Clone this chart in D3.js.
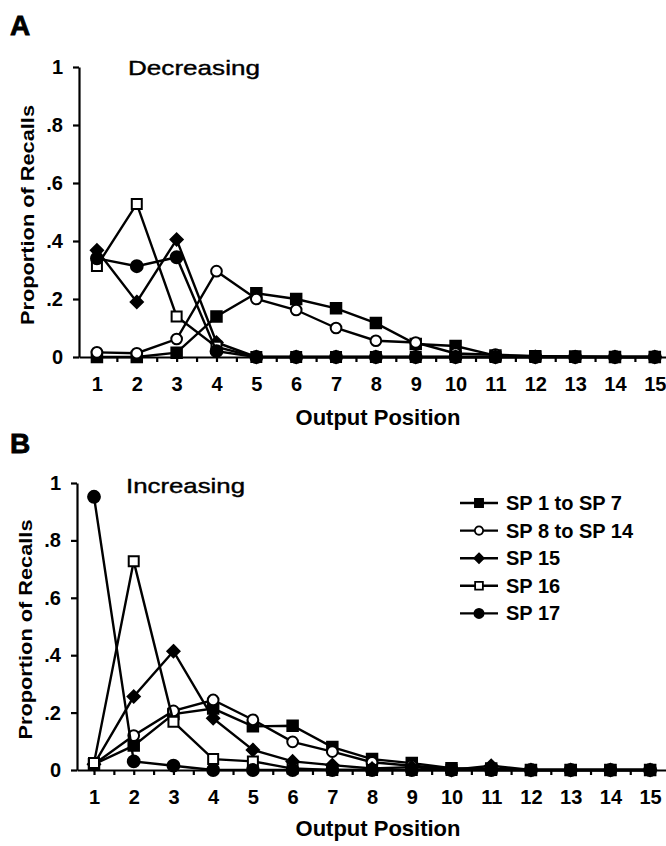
<!DOCTYPE html>
<html>
<head>
<meta charset="utf-8">
<script src="https://cdn.jsdelivr.net/npm/d3@7"></script>
<style>
  body { margin: 0; background: #fff; }
  svg { font-family: 'Liberation Sans', Arial, sans-serif; }
  .tick text { font-size: 20px; font-weight: bold; fill: #000; }
  .domain, .tick line { stroke: #000; stroke-width: 2.2; }
</style>
</head>
<body>
<div id="chart"></div>
<script>
const positions = [1, 2, 3, 4, 5, 6, 7, 8, 9, 10, 11, 12, 13, 14, 15];
const yTicks = [0, 0.2, 0.4, 0.6, 0.8, 1];
const seriesNames = ['SP 1 to SP 7', 'SP 8 to SP 14', 'SP 15', 'SP 16', 'SP 17'];

// panel A - decreasing
const decSP1to7 = [0, 0, 0.015, 0.14, 0.22, 0.2, 0.168, 0.117, 0.045, 0.038, 0.005, 0.003, 0.002, 0, 0];
const decSP8to14 = [0.016, 0.013, 0.062, 0.296, 0.2, 0.162, 0.1, 0.056, 0.05, 0.012, 0.008, 0.003, 0, 0, 0];
const decSP15 = [0.368, 0.19, 0.405, 0.05, 0, 0, 0, 0, 0, 0, 0, 0, 0, 0, 0];
const decSP16 = [0.314, 0.528, 0.14, 0.035, 0, 0, 0, 0, 0, 0, 0, 0, 0, 0, 0];
const decSP17 = [0.34, 0.313, 0.344, 0.02, 0, 0, 0, 0, 0, 0, 0, 0, 0, 0, 0];

// panel B - increasing
const incSP1to7 = [0.02, 0.085, 0.195, 0.214, 0.152, 0.154, 0.08, 0.038, 0.024, 0.006, 0.005, 0, 0, 0, 0];
const incSP8to14 = [0.02, 0.12, 0.206, 0.244, 0.175, 0.098, 0.064, 0.027, 0.015, 0.005, 0, 0, 0, 0, 0];
const incSP15 = [0.02, 0.256, 0.414, 0.18, 0.07, 0.03, 0.017, 0.005, 0.01, 0, 0.015, 0, 0, 0, 0];
const incSP16 = [0.024, 0.727, 0.168, 0.038, 0.03, 0.005, 0, 0, 0, 0, 0, 0, 0, 0, 0];
const incSP17 = [0.952, 0.03, 0.015, 0, 0, 0, 0, 0, 0, 0, 0, 0, 0, 0, 0];

const width = 666;
const height = 846;

// marker style per series: shape + filled or open
const markers = [
  { type: d3.symbolSquare, size: 110, fill: '#000' },
  { type: d3.symbolCircle, size: 90, fill: '#fff' },
  { type: d3.symbolDiamond2, size: 95, fill: '#000' },
  { type: d3.symbolSquare, size: 100, fill: '#fff' },
  { type: d3.symbolCircle, size: 110, fill: '#000' }
];

const svg = d3.select('#chart')
  .append('svg')
  .attr('width', width)
  .attr('height', height);

drawPanel({
  letter: 'A', letterY: 35,
  title: 'Decreasing', titleX: 128, titleY: 75, titleLen: 132,
  xDomain: [0.55, 15.28], xRange: [79, 666],
  yRange: [357, 67],
  labelY: 425, yLabelX: 34,
  series: [decSP1to7, decSP8to14, decSP15, decSP16, decSP17],
  legend: false
});

drawPanel({
  letter: 'B', letterY: 453,
  title: 'Increasing', titleX: 126, titleY: 493, titleLen: 119,
  xDomain: [0.572, 15.4], xRange: [77, 666],
  yRange: [770, 483],
  labelY: 836, yLabelX: 32,
  series: [incSP1to7, incSP8to14, incSP15, incSP16, incSP17],
  legend: true
});

function drawPanel(cfg) {
  const scaleX = d3.scaleLinear().domain(cfg.xDomain).range(cfg.xRange);
  const scaleY = d3.scaleLinear().domain([0, 1]).range(cfg.yRange);

  const g = svg.append('g');

  g.append('text')
    .attr('x', 10)
    .attr('y', cfg.letterY)
    .attr('font-size', 28)
    .attr('font-weight', 'bold')
    .attr('stroke', '#000')
    .attr('stroke-width', 0.8)
    .text(cfg.letter);

  g.append('text')
    .attr('x', cfg.titleX)
    .attr('y', cfg.titleY)
    .attr('font-size', 21)
    .attr('stroke', '#000')
    .attr('stroke-width', 0.4)
    .attr('textLength', cfg.titleLen)
    .attr('lengthAdjust', 'spacingAndGlyphs')
    .text(cfg.title);

  // x axis: ticks every half position, labels on whole positions
  const halfTicks = [];
  positions.forEach(p => { halfTicks.push(p - 0.5, p); });
  halfTicks.push(15.5);
  const xAxis = d3.axisBottom(scaleX)
    .tickValues(halfTicks.filter(v => v > cfg.xDomain[0] && v < cfg.xDomain[1]))
    .tickFormat(d => Number.isInteger(d) ? d : '')
    .tickSizeInner(5)
    .tickSizeOuter(0)
    .tickPadding(15);

  g.append('g')
    .attr('transform', `translate(0, ${cfg.yRange[0]})`)
    .call(xAxis);

  const yAxis = d3.axisLeft(scaleY)
    .tickValues(yTicks)
    .tickFormat(d => d === 0 ? '0' : d === 1 ? '1' : String(d).replace('0.', '.'))
    .tickSizeInner(6)
    .tickSizeOuter(0)
    .tickPadding(10);

  g.append('g')
    .attr('transform', `translate(${cfg.xRange[0]}, 0)`)
    .call(yAxis);

  g.append('text')
    .attr('x', 378)
    .attr('y', cfg.labelY)
    .attr('text-anchor', 'middle')
    .attr('font-size', 22)
    .attr('font-weight', 'bold')
    .text('Output Position');

  const yMid = (cfg.yRange[0] + cfg.yRange[1]) / 2 + 3;
  g.append('text')
    .attr('transform', `translate(${cfg.yLabelX}, ${yMid}) rotate(-90)`)
    .attr('text-anchor', 'middle')
    .attr('font-size', 19)
    .attr('font-weight', 'bold')
    .attr('textLength', 220)
    .attr('lengthAdjust', 'spacingAndGlyphs')
    .text('Proportion of Recalls');

  const line = d3.line()
    .x((d, i) => scaleX(positions[i]))
    .y(d => scaleY(d));

  cfg.series.forEach((values, si) => {
    const m = markers[si];
    const sg = g.append('g');
    sg.append('path')
      .attr('d', line(values))
      .attr('fill', 'none')
      .attr('stroke', '#000')
      .attr('stroke-width', 2.4);
    sg.selectAll('path.marker')
      .data(values)
      .enter()
      .append('path')
      .attr('class', 'marker')
      .attr('d', d3.symbol().type(m.type).size(m.size))
      .attr('transform', (d, i) => `translate(${scaleX(positions[i])}, ${scaleY(d)})`)
      .attr('fill', m.fill)
      .attr('stroke', '#000')
      .attr('stroke-width', 2);
  });

  if (cfg.legend) {
    const legend = g.append('g')
      .attr('transform', 'translate(460, 503)');
    const rows = legend.selectAll('g')
      .data(seriesNames)
      .enter()
      .append('g')
      .attr('transform', (d, i) => `translate(0, ${i * 27.6})`);
    rows.append('line')
      .attr('x1', 0).attr('x2', 38)
      .attr('stroke', '#000')
      .attr('stroke-width', 2.4);
    rows.append('path')
      .attr('d', (d, i) => d3.symbol().type(markers[i].type).size(markers[i].size * 0.6)())
      .attr('transform', 'translate(19, 0)')
      .attr('fill', (d, i) => markers[i].fill)
      .attr('stroke', '#000')
      .attr('stroke-width', 1.8);
    rows.append('text')
      .attr('x', 46)
      .attr('y', 7)
      .attr('font-size', 20)
      .attr('font-weight', 'bold')
      .text(d => d);
  }
}
</script>
</body>
</html>
